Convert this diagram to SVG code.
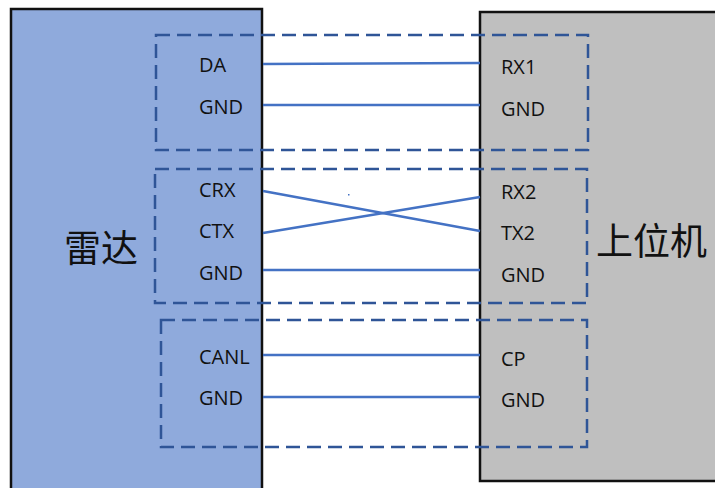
<svg xmlns="http://www.w3.org/2000/svg" width="715" height="488" viewBox="0 0 715 488">
<style>
.lbl{font-family:"Open Sans","Liberation Sans",sans-serif;font-size:20px;fill:#111}
.big{font-family:"Noto Sans CJK SC","Noto Sans",sans-serif;font-size:37px;fill:#111}
.wire{stroke:#4472C4;stroke-width:2.5;fill:none}
.grp{stroke:#2F5597;stroke-width:2.5;fill:none;stroke-dasharray:14 7}
</style>
<rect width="715" height="488" fill="#fff"/>
<g id="radar">
<rect x="11" y="9" width="251" height="490" fill="#8FAADC" stroke="#111" stroke-width="2.5"/>
<text class="big" x="64" y="262">雷达</text>
<text class="lbl" x="199" y="72">DA</text>
<text class="lbl" x="199" y="114">GND</text>
<text class="lbl" x="199" y="197">CRX</text>
<text class="lbl" x="199" y="238">CTX</text>
<text class="lbl" x="199" y="280">GND</text>
<text class="lbl" x="199" y="364">CANL</text>
<text class="lbl" x="199" y="405">GND</text>
</g>
<g id="host">
<rect x="480" y="12" width="250" height="469" fill="#BFBFBF" stroke="#111" stroke-width="2.5"/>
<text class="big" x="596" y="255">上位机</text>
<text class="lbl" x="501" y="74">RX1</text>
<text class="lbl" x="501" y="116">GND</text>
<text class="lbl" x="501" y="199">RX2</text>
<text class="lbl" x="501" y="240">TX2</text>
<text class="lbl" x="501" y="282">GND</text>
<text class="lbl" x="501" y="366">CP</text>
<text class="lbl" x="501" y="407">GND</text>
</g>
<g id="groups">
<rect class="grp" x="156" y="35" width="432" height="115"/>
<rect class="grp" x="155" y="169" width="432" height="134"/>
<rect class="grp" x="161" y="320" width="426" height="127"/>
</g>
<g id="connectors">
<line class="wire" x1="263" y1="64" x2="480" y2="63"/>
<line class="wire" x1="263" y1="105" x2="480" y2="105"/>
<line class="wire" x1="263" y1="191" x2="480" y2="231"/>
<line class="wire" x1="263" y1="233" x2="480" y2="197"/>
<line class="wire" x1="263" y1="270" x2="480" y2="270"/>
<line class="wire" x1="263" y1="355" x2="480" y2="355"/>
<line class="wire" x1="263" y1="397" x2="480" y2="397"/>
</g>
<rect x="348" y="194" width="1.5" height="1.5" fill="#4472C4"/>
</svg>
